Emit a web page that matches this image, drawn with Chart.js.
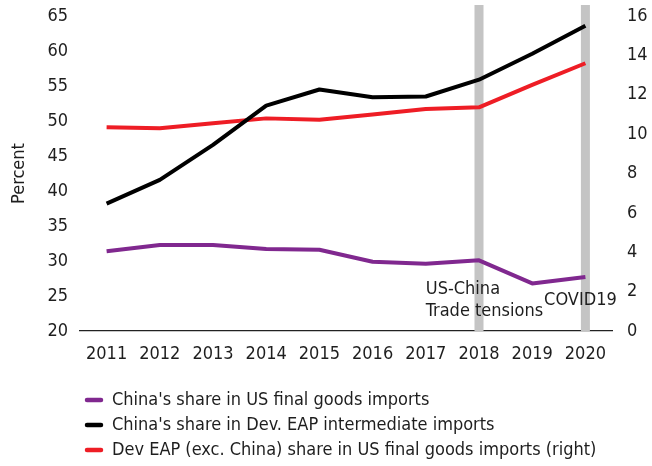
<!DOCTYPE html>
<html>
<head>
<meta charset="utf-8">
<script src="https://cdn.jsdelivr.net/npm/chart.js@4.4.1/dist/chart.umd.min.js"></script>
<style>
  html, body { margin: 0; padding: 0; background: #fff; }
  #wrap { width: 652px; height: 466px; position: relative; }
</style>
</head>
<body>
<div id="wrap"><canvas id="c" width="652" height="466"></canvas></div>
<script>
// Years on the horizontal axis
const years = ['2011', '2012', '2013', '2014', '2015', '2016', '2017', '2018', '2019', '2020'];

// Left axis (percent)
const chinaUsFinalShare = [31.4, 32.3, 32.3, 31.7, 31.6, 29.9, 29.6, 30.1, 26.8, 27.7];
const chinaEapIntermediateShare = [38.2, 41.6, 46.6, 52.2, 54.5, 53.4, 53.5, 55.9, 59.6, 63.6];

// Right axis (percent)
const devEapUsFinalShare = [10.35, 10.3, 10.55, 10.8, 10.73, 11.0, 11.28, 11.36, 12.5, 13.6];

// Axis ranges
const leftRange = { min: 20, max: 65, step: 5 };
const rightRange = { min: 0, max: 16, step: 2 };

// Shaded event markers and their captions
const events = [
  { year: '2018', lines: ['US-China', 'Trade tensions'] },
  { year: '2020', lines: ['COVID19'] }
];

const seriesLabels = [
  "China's share in US final goods imports",
  "China's share in Dev. EAP intermediate imports",
  "Dev EAP (exc. China) share in US final goods imports (right)"
];
const seriesColors = ['#80288f', '#000000', '#ee1d25'];

const FONT = '"DejaVu Sans Condensed", "DejaVu Sans", sans-serif';
const TEXT = '#1e1e1e';

// Grey event bands behind the lines, captions on top
const eventBands = {
  id: 'eventBands',
  beforeDatasetsDraw(chart) {
    const { ctx, chartArea, scales } = chart;
    ctx.save();
    ctx.fillStyle = '#c4c4c4';
    events.forEach(ev => {
      const x = scales.x.getPixelForValue(years.indexOf(ev.year));
      ctx.fillRect(x - 4.5, chartArea.top - 11, 9, chartArea.bottom - chartArea.top + 11);
    });
    ctx.restore();
  },
  afterDatasetsDraw(chart) {
    const { ctx, scales } = chart;
    const yl = scales.y;
    ctx.save();
    ctx.fillStyle = TEXT;
    ctx.font = '18px ' + FONT;
    ctx.textBaseline = 'middle';
    const xTrade = scales.x.getPixelForValue(years.indexOf('2017'));
    ctx.textAlign = 'left';
    ctx.fillText(events[0].lines[0], xTrade, yl.getPixelForValue(26.0));
    ctx.fillText(events[0].lines[1], xTrade, yl.getPixelForValue(22.8));
    const xCovid = scales.x.getPixelForValue(years.indexOf('2020'));
    ctx.textAlign = 'center';
    ctx.fillText(events[1].lines[0], xCovid - 5, yl.getPixelForValue(24.45));
    ctx.restore();
  }
};

// Stacked legend under the plot
const stackedLegend = {
  id: 'stackedLegend',
  afterDraw(chart) {
    const { ctx } = chart;
    ctx.save();
    ctx.font = '18px ' + FONT;
    ctx.textBaseline = 'middle';
    ctx.textAlign = 'left';
    chart.data.datasets.forEach((ds, i) => {
      const y = 400 + i * 25;
      ctx.strokeStyle = ds.borderColor;
      ctx.lineWidth = 4.5;
      ctx.lineCap = 'round';
      ctx.beginPath();
      ctx.moveTo(87, y);
      ctx.lineTo(101, y);
      ctx.stroke();
      ctx.fillStyle = TEXT;
      ctx.fillText(ds.label, 112, y);
    });
    ctx.restore();
  }
};

const lineStyle = {
  borderWidth: 4,
  pointRadius: 0,
  pointHoverRadius: 0,
  tension: 0,
  fill: false,
  borderJoinStyle: 'round',
  borderCapStyle: 'butt'
};

// Fixed axis sizes so the plot area sits at a set place
function fixVertical(width) {
  return s => { s.width = width; s.paddingTop = 0; s.paddingBottom = 0; };
}

new Chart(document.getElementById('c'), {
  type: 'line',
  data: {
    labels: years,
    datasets: [
      { label: seriesLabels[0], data: chinaUsFinalShare, borderColor: seriesColors[0], yAxisID: 'y', ...lineStyle },
      { label: seriesLabels[1], data: chinaEapIntermediateShare, borderColor: seriesColors[1], yAxisID: 'y', ...lineStyle },
      { label: seriesLabels[2], data: devEapUsFinalShare, borderColor: seriesColors[2], yAxisID: 'y1', ...lineStyle }
    ]
  },
  options: {
    responsive: false,
    animation: false,
    devicePixelRatio: 1,
    layout: { padding: { top: 16, bottom: 95, left: 0, right: 0 } },
    plugins: {
      legend: { display: false },
      tooltip: { enabled: false }
    },
    scales: {
      x: {
        type: 'category',
        offset: true,
        grid: { display: false, drawTicks: false },
        border: { display: true, color: '#222', width: 1.2 },
        ticks: { color: TEXT, font: { family: FONT, size: 18 }, padding: 13, maxRotation: 0, autoSkip: false },
        afterFit(s) { s.height = 40; s.paddingLeft = 0; s.paddingRight = 0; }
      },
      y: {
        position: 'left',
        min: leftRange.min,
        max: leftRange.max,
        grid: { display: false, drawTicks: false },
        border: { display: false },
        ticks: { stepSize: leftRange.step, color: TEXT, font: { family: FONT, size: 18 }, padding: 12 },
        title: { display: true, text: 'Percent', color: TEXT, font: { family: FONT, size: 18 }, padding: { top: 9, bottom: 0 } },
        afterFit: fixVertical(80)
      },
      y1: {
        position: 'right',
        min: rightRange.min,
        max: rightRange.max,
        grid: { display: false, drawTicks: false },
        border: { display: false },
        ticks: { stepSize: rightRange.step, color: TEXT, font: { family: FONT, size: 18 }, padding: 15 },
        afterFit: fixVertical(40)
      }
    }
  },
  plugins: [eventBands, stackedLegend]
});
</script>
</body>
</html>
